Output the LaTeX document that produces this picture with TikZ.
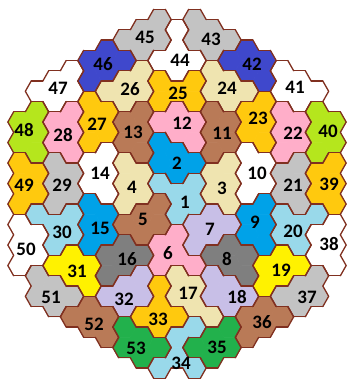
\documentclass[tikz,border=0pt]{standalone}
\usepackage{fontspec}
\setmainfont{Carlito}
\definecolor{cLB}{RGB}{153,217,234}
\definecolor{cBL}{RGB}{0,162,232}
\definecolor{cBE}{RGB}{239,228,176}
\definecolor{cBR}{RGB}{185,122,87}
\definecolor{cPK}{RGB}{255,174,201}
\definecolor{cLV}{RGB}{200,191,231}
\definecolor{cDG}{RGB}{127,127,127}
\definecolor{cWH}{RGB}{255,255,255}
\definecolor{cYE}{RGB}{255,242,0}
\definecolor{cGR}{RGB}{195,195,195}
\definecolor{cOR}{RGB}{255,201,14}
\definecolor{cLI}{RGB}{181,230,29}
\definecolor{cIN}{RGB}{63,72,204}
\definecolor{cGN}{RGB}{34,177,76}
\definecolor{cBD}{RGB}{128,48,32}
\def\setcol#1#2{\expandafter\def\csname C@#1\endcsname{#2}}
\setcol{1}{cLB}\setcol{2}{cBL}\setcol{3}{cBE}\setcol{4}{cBE}\setcol{5}{cBR}
\setcol{6}{cPK}\setcol{7}{cLV}\setcol{8}{cDG}\setcol{9}{cBL}\setcol{10}{cWH}
\setcol{11}{cBR}\setcol{12}{cPK}\setcol{13}{cBR}\setcol{14}{cWH}\setcol{15}{cBL}
\setcol{16}{cDG}\setcol{17}{cBE}\setcol{18}{cLV}\setcol{19}{cYE}\setcol{20}{cLB}
\setcol{21}{cGR}\setcol{22}{cPK}\setcol{23}{cOR}\setcol{24}{cBE}\setcol{25}{cOR}
\setcol{26}{cBE}\setcol{27}{cOR}\setcol{28}{cPK}\setcol{29}{cGR}\setcol{30}{cLB}
\setcol{31}{cYE}\setcol{32}{cLV}\setcol{33}{cOR}\setcol{34}{cLB}\setcol{35}{cGN}
\setcol{36}{cBR}\setcol{37}{cGR}\setcol{38}{cWH}\setcol{39}{cOR}\setcol{40}{cLI}
\setcol{41}{cWH}\setcol{42}{cIN}\setcol{43}{cGR}\setcol{44}{cWH}\setcol{45}{cGR}
\setcol{46}{cIN}\setcol{47}{cWH}\setcol{48}{cLI}\setcol{49}{cOR}\setcol{50}{cWH}
\setcol{51}{cGR}\setcol{52}{cBR}\setcol{53}{cGN}
% region of each hexagon, column by column (top to bottom)
\def\setcolumn#1#2{\expandafter\def\csname col#1\endcsname{#2}}
\setcolumn{-9}{48,48,49,49,49,50,50,50}
\setcolumn{-8}{47,48,48,48,49,49,30,50,50,51,51}
\setcolumn{-7}{47,47,28,28,29,29,29,30,30,31,51,51}
\setcolumn{-6}{47,47,28,28,28,29,29,30,30,31,31,51,52}
\setcolumn{-5}{46,46,27,27,27,14,14,15,15,15,31,31,52,52}
\setcolumn{-4}{46,46,26,27,27,14,14,14,15,15,16,16,32,52,52}
\setcolumn{-3}{45,46,26,26,13,13,4,4,4,5,16,16,32,32,53,53}
\setcolumn{-2}{45,45,26,26,13,13,13,4,4,5,5,16,32,32,33,53,53}
\setcolumn{-1}{45,45,44,25,25,12,2,2,1,5,5,6,6,33,33,33,53,34}
\setcolumn{0}{44,44,44,25,12,12,2,2,1,1,6,6,17,17,33,34,34}
\setcolumn{1}{43,43,44,25,25,12,12,2,1,1,7,7,6,17,17,34,35,34}
\setcolumn{2}{43,43,24,24,11,11,11,3,3,7,7,8,18,18,17,35,35}
\setcolumn{3}{43,42,24,24,11,11,3,3,3,7,8,8,18,18,35,35}
\setcolumn{4}{42,42,24,23,23,10,10,10,9,9,8,8,18,36,36}
\setcolumn{5}{42,42,23,23,23,10,10,9,9,9,19,19,36,36}
\setcolumn{6}{41,41,22,22,22,21,21,20,20,19,19,37,36}
\setcolumn{7}{41,41,22,22,21,21,21,20,20,19,37,37}
\setcolumn{8}{41,40,40,40,39,39,20,38,38,37,37}
\setcolumn{9}{40,40,39,39,39,38,38,38}
\def\kmn#1{\ifcase#1 0\or0\or0\or1\or1\or2\or2\or3\or3\or5\fi}
\def\labs{1/185/202,2/177/163,3/222/188,4/132/187,5/143/219,6/168/253,7/210/229,8/227/259,9/255/222,10/257/173,11/222/133,12/182/123,13/133/132,14/100/173,15/100/228,16/127/259,17/188/293,18/237/297,19/281/270,20/293/231,21/293/185,22/293/133,23/258/118,24/227/88,25/178/93,26/130/89,27/97/124,28/63/135,29/62/185,30/62/232,31/77/271,32/124/299,33/158/319,34/181/363,35/217/347,36/262/322,37/307/297,38/329/244,39/329/184,40/328/131,41/295/87,42/252/64,43/211/39,44/180/60,45/145/37,46/103/64,47/58/88,48/24/130,49/24/185,50/26/249,51/51/297,52/94/324,53/136/348}
\newcommand\regof[2]{\ifcsname R@#1@#2\endcsname\csname R@#1@#2\endcsname\else 0\fi}
\begin{document}
\begin{tikzpicture}[x=1pt,y=-1pt,
  bd/.style={draw=cBD,line width=1.3pt,line cap=round},
  lab/.style={font=\fontsize{19}{19}\selectfont\bfseries,text=black,inner sep=0pt}]
\useasboundingbox (0,0) rectangle (349,381);
% read the table
\foreach \c in {-9,...,9}{%
  \edef\ac{\ifnum\c<0 \the\numexpr-\c\relax\else\c\fi}%
  \edef\ks{\kmn{\ac}}%
  \expandafter\let\expandafter\lst\csname col\c\endcsname
  \foreach \r [count=\i from \ks] in \lst {\expandafter\xdef\csname R@\c @\i\endcsname{\r}}%
}
% fills
\foreach \c in {-9,...,9}{%
 \foreach \k in {0,...,17}{%
  \ifcsname R@\c @\k\endcsname
   \edef\rr{\csname R@\c @\k\endcsname}%
   \edef\mycol{\csname C@\rr\endcsname}%
   \pgfmathsetmacro\cx{177+17.5*\c}%
   \ifodd\c\relax \pgfmathsetmacro\cy{19.55+20.5*\k}\else \pgfmathsetmacro\cy{29.8+20.5*\k}\fi
   \filldraw[fill=\mycol,draw=\mycol,line width=0.6pt] (\cx+11.67,\cy) -- (\cx+5.835,\cy+10.25) -- (\cx-5.835,\cy+10.25) -- (\cx-11.67,\cy) -- (\cx-5.835,\cy-10.25) -- (\cx+5.835,\cy-10.25) -- cycle;
  \fi
 }}
% borders between different regions and along the outline
\foreach \c in {-9,...,9}{%
 \foreach \k in {0,...,17}{%
  \ifcsname R@\c @\k\endcsname
   \edef\rr{\csname R@\c @\k\endcsname}%
   \pgfmathsetmacro\cx{177+17.5*\c}%
   \ifodd\c\relax
     \pgfmathsetmacro\cy{19.55+20.5*\k}%
     \edef\nA{\regof{\c}{\the\numexpr\k-1\relax}}%
     \edef\nB{\regof{\the\numexpr\c+1\relax}{\the\numexpr\k-1\relax}}%
     \edef\nC{\regof{\the\numexpr\c+1\relax}{\k}}%
     \edef\nD{\regof{\c}{\the\numexpr\k+1\relax}}%
     \edef\nE{\regof{\the\numexpr\c-1\relax}{\k}}%
     \edef\nF{\regof{\the\numexpr\c-1\relax}{\the\numexpr\k-1\relax}}%
   \else
     \pgfmathsetmacro\cy{29.8+20.5*\k}%
     \edef\nA{\regof{\c}{\the\numexpr\k-1\relax}}%
     \edef\nB{\regof{\the\numexpr\c+1\relax}{\k}}%
     \edef\nC{\regof{\the\numexpr\c+1\relax}{\the\numexpr\k+1\relax}}%
     \edef\nD{\regof{\c}{\the\numexpr\k+1\relax}}%
     \edef\nE{\regof{\the\numexpr\c-1\relax}{\the\numexpr\k+1\relax}}%
     \edef\nF{\regof{\the\numexpr\c-1\relax}{\k}}%
   \fi
   \ifnum\nA=\rr\else \draw[bd] (\cx-5.835,\cy-10.25) -- (\cx+5.835,\cy-10.25);\fi
   \ifnum\nB=\rr\else \draw[bd] (\cx+5.835,\cy-10.25) -- (\cx+11.67,\cy);\fi
   \ifnum\nC=\rr\else \draw[bd] (\cx+11.67,\cy) -- (\cx+5.835,\cy+10.25);\fi
   \ifnum\nD=\rr\else \draw[bd] (\cx+5.835,\cy+10.25) -- (\cx-5.835,\cy+10.25);\fi
   \ifnum\nE=\rr\else \draw[bd] (\cx-5.835,\cy+10.25) -- (\cx-11.67,\cy);\fi
   \ifnum\nF=\rr\else \draw[bd] (\cx-11.67,\cy) -- (\cx-5.835,\cy-10.25);\fi
  \fi
 }}
% labels
\foreach \n/\lx/\ly in \labs {\node[lab] (L\n) at (\lx,\ly) {\n};}
\end{tikzpicture}
\end{document}
